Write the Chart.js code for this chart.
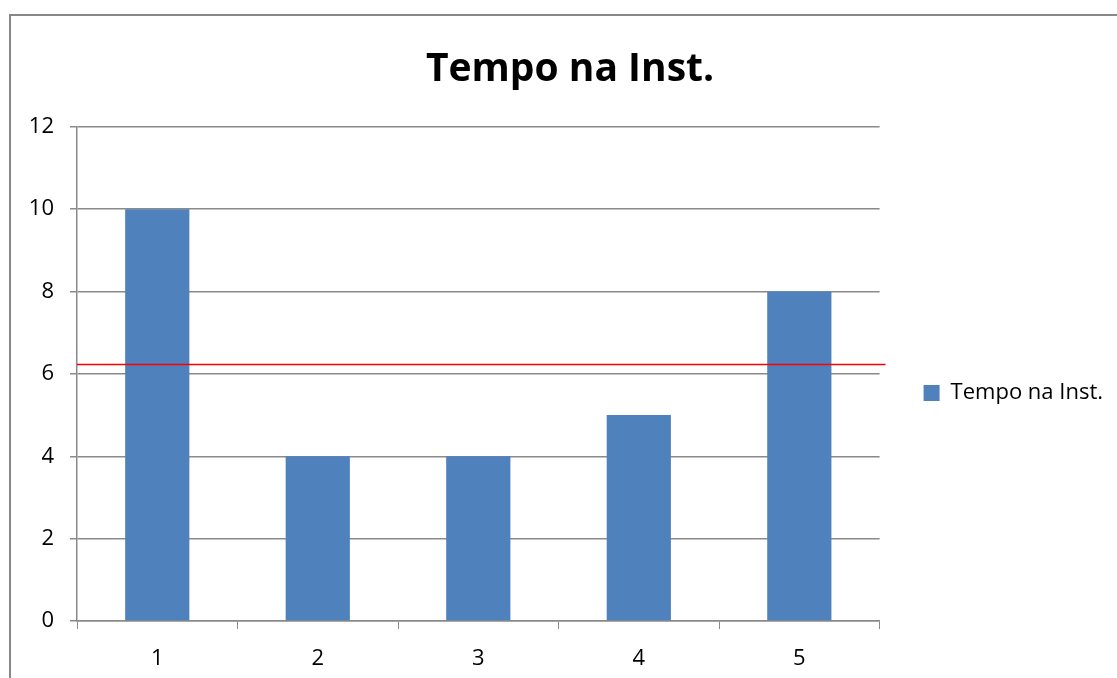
<!DOCTYPE html>
<html lang="pt">
<head>
<meta charset="UTF-8">
<title>Tempo na Inst.</title>
<script src="https://cdn.jsdelivr.net/npm/chart.js"></script>
<style>
    html, body { margin: 0; padding: 0; background: #fff; overflow: hidden; }
    #wrap { position: relative; width: 1117px; height: 678px; }
    #frame {
        position: absolute; left: 9px; top: 14px; width: 1120px; height: 700px;
        border-left: 2px solid #878787; border-top: 2px solid #878787;
    }
    #chart { position: absolute; left: 0; top: 0; }
</style>
</head>
<body>
<div id="wrap">
    <div id="frame"></div>
    <canvas id="chart" width="1117" height="678"></canvas>
</div>
<script>
    // dados
    const categorias = ['1', '2', '3', '4', '5'];
    const valores = [10, 4, 4, 5, 8];
    const linhaReferencia = [6.25]; // linha vermelha
    const yTicks = [0, 2, 4, 6, 8, 10, 12];

    const FONT = '"Open Sans", "DejaVu Sans", sans-serif';
    const GRID = '#8a8a8a';

    // linha vermelha horizontal, um pouco além da área do gráfico
    const redLine = {
        id: 'redLine',
        afterDatasetsDraw(chart) {
            const { ctx, chartArea, scales } = chart;
            linhaReferencia.forEach(v => {
                const y = Math.round(scales.y.getPixelForValue(v)) + 0.5;
                ctx.save();
                ctx.strokeStyle = '#ff0000';
                ctx.lineWidth = 1.5;
                ctx.beginPath();
                ctx.moveTo(chartArea.left, y);
                ctx.lineTo(chartArea.right + 6, y);
                ctx.stroke();
                ctx.restore();
            });
        }
    };

    new Chart(document.getElementById('chart'), {
        type: 'bar',
        data: {
            labels: categorias,
            datasets: [{
                label: 'Tempo na Inst.',
                data: valores,
                backgroundColor: '#4f81bd',
                borderWidth: 0,
                barPercentage: 0.4,
                categoryPercentage: 1.0
            }]
        },
        options: {
            responsive: false,
            animation: false,
            layout: { padding: { left: 27, right: 4, top: 0, bottom: 0 } },
            plugins: {
                title: {
                    display: true,
                    text: 'Tempo na Inst.',
                    color: '#000',
                    font: { family: FONT, size: 39, weight: 'bold' },
                    padding: { top: 46, bottom: 34 }
                },
                legend: {
                    position: 'right',
                    align: 'center',
                    maxWidth: 260,
                    // título vazio só para descer a legenda até o meio do gráfico
                    title: { display: true, text: ' ', font: { size: 10 }, padding: { top: 96, bottom: 0 } },
                    labels: {
                        color: '#000',
                        font: { family: FONT, size: 22 },
                        boxWidth: 16,
                        boxHeight: 16,
                        padding: 11
                    }
                },
                tooltip: { enabled: false }
            },
            scales: {
                x: {
                    grid: { drawOnChartArea: false, drawTicks: true, tickLength: 8, color: GRID, offset: true },
                    border: { color: GRID, width: 1.5 },
                    ticks: { color: '#000', font: { family: FONT, size: 22 }, padding: 17 },
                    afterFit: s => { s.height = 57; }
                },
                y: {
                    min: 0,
                    max: 12,
                    afterBuildTicks: s => { s.ticks = yTicks.map(v => ({ value: v })); },
                    grid: { color: GRID, lineWidth: 1.5, tickLength: 7 },
                    border: { color: GRID, width: 1.5 },
                    ticks: { color: '#000', font: { family: FONT, size: 22 }, padding: 16 },
                    afterFit: s => { s.width = 50; }
                },
                // eixo vazio à direita: espaço entre a área do gráfico e a legenda
                espaco: {
                    position: 'right',
                    grid: { display: false },
                    border: { display: false },
                    ticks: { display: false },
                    afterFit: s => { s.width = 33; }
                }
            }
        },
        plugins: [redLine]
    });
</script>
</body>
</html>
